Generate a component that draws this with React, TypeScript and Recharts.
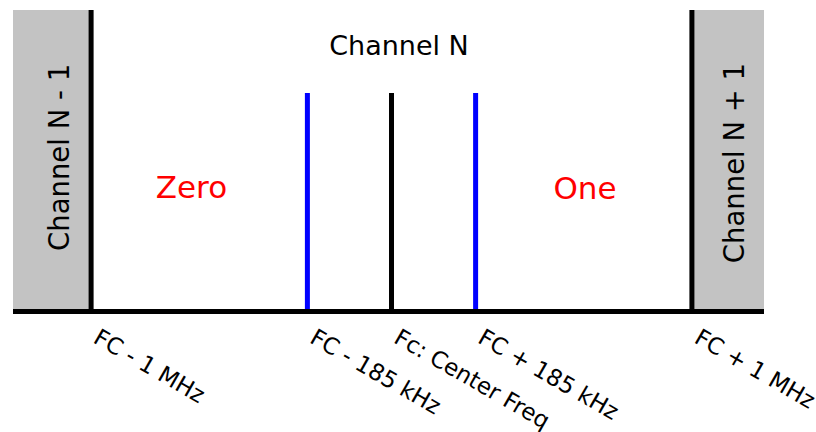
import React from 'react';
import { ComposedChart, XAxis, YAxis, ReferenceLine, ReferenceArea, ReferenceDot } from 'recharts';

// marker positions along the (schematic, not to scale) frequency axis
const markers = [-1, -0.28, 0, 0.28, 1];
const markerLabels = ['FC - 1 MHz', 'FC - 185 kHz', 'Fc: Center Freq', 'FC + 185 kHz', 'FC + 1 MHz'];
const markerHeights = [1, 0.725, 0.725, 0.725, 1];
const markerColors = ['#000000', '#0000ff', '#000000', '#0000ff', '#000000'];

// neighbouring channels (shaded)
const neighbourFrom = [-1.26, 1];
const neighbourTo = [-1, 1.24];

const X_DOMAIN = [-1.26, 1.24];
const FONT = '"DejaVu Sans", Verdana, sans-serif';

const annotations = [
  { x: 0.025, y: 0.851, text: 'Channel N', color: '#000000', size: 27, rotate: false },
  { x: -0.666, y: 0.376, text: 'Zero', color: '#ff0000', size: 31, rotate: false },
  { x: 0.644, y: 0.374, text: 'One', color: '#ff0000', size: 31, rotate: false },
  { x: -1.1, y: 0.511, text: 'Channel N - 1', color: '#000000', size: 27.5, rotate: true },
  { x: 1.147, y: 0.4925, text: 'Channel N + 1', color: '#000000', size: 27.5, rotate: true },
];

const data = markers.map((m, i) => ({ pos: m, label: markerLabels[i] }));

const MarkerTick = (props: any) => {
  const { x, y, payload } = props;
  const i = markers.indexOf(payload.value);
  return (
    <text
      transform={`translate(${x + 1},${y + 30.5}) rotate(30)`}
      textAnchor="start"
      fontFamily={FONT}
      fontSize={23}
      fill="#000"
    >
      {markerLabels[i]}
    </text>
  );
};

const makeLabel = (a: typeof annotations[number]) => (props: any) => {
  const vb = props.viewBox || {};
  const cx = (vb.x ?? 0) + (vb.width ?? 0) / 2;
  const cy = (vb.y ?? 0) + (vb.height ?? 0) / 2;
  return (
    <text
      x={cx}
      y={cy}
      textAnchor="middle"
      transform={a.rotate ? `rotate(-90 ${cx} ${cy})` : undefined}
      dy={a.rotate ? undefined : 0}
      dominantBaseline={a.rotate ? 'middle' : 'auto'}
      fontFamily={FONT}
      fontSize={a.size}
      fill={a.color}
    >
      {a.text}
    </text>
  );
};

const App: React.FC = () => {
  return (
    <div style={{ position: 'absolute', left: 0, top: 0, background: '#fff' }}>
      <ComposedChart width={816} height={432} data={data} margin={{ top: 10, right: 52, bottom: 0, left: 13 }}>
        <XAxis
          dataKey="pos"
          type="number"
          domain={X_DOMAIN}
          allowDataOverflow
          ticks={markers}
          interval={0}
          height={120.5}
          tickSize={0}
          tickMargin={0}
          tickLine={false}
          axisLine={{ stroke: '#000', strokeWidth: 5 }}
          tick={<MarkerTick />}
        />
        <YAxis hide type="number" domain={[0, 1]} allowDataOverflow />
        {neighbourFrom.map((f, i) => (
          <ReferenceArea
            key={`n-${i}`}
            x1={f}
            x2={neighbourTo[i]}
            y1={0}
            y2={1}
            fill="#c3c3c3"
            fillOpacity={1}
            stroke="none"
          />
        ))}
        {markers.map((m, i) => (
          <ReferenceLine
            key={`m-${i}`}
            segment={[{ x: m, y: 0 }, { x: m, y: markerHeights[i] }]}
            stroke={markerColors[i]}
            strokeWidth={5}
          />
        ))}
        {annotations.map((a, i) => (
          <ReferenceDot
            key={`a-${i}`}
            x={a.x}
            y={a.y}
            r={1}
            fill="none"
            stroke="none"
            label={makeLabel(a)}
          />
        ))}
      </ComposedChart>
    </div>
  );
};

export default App;
